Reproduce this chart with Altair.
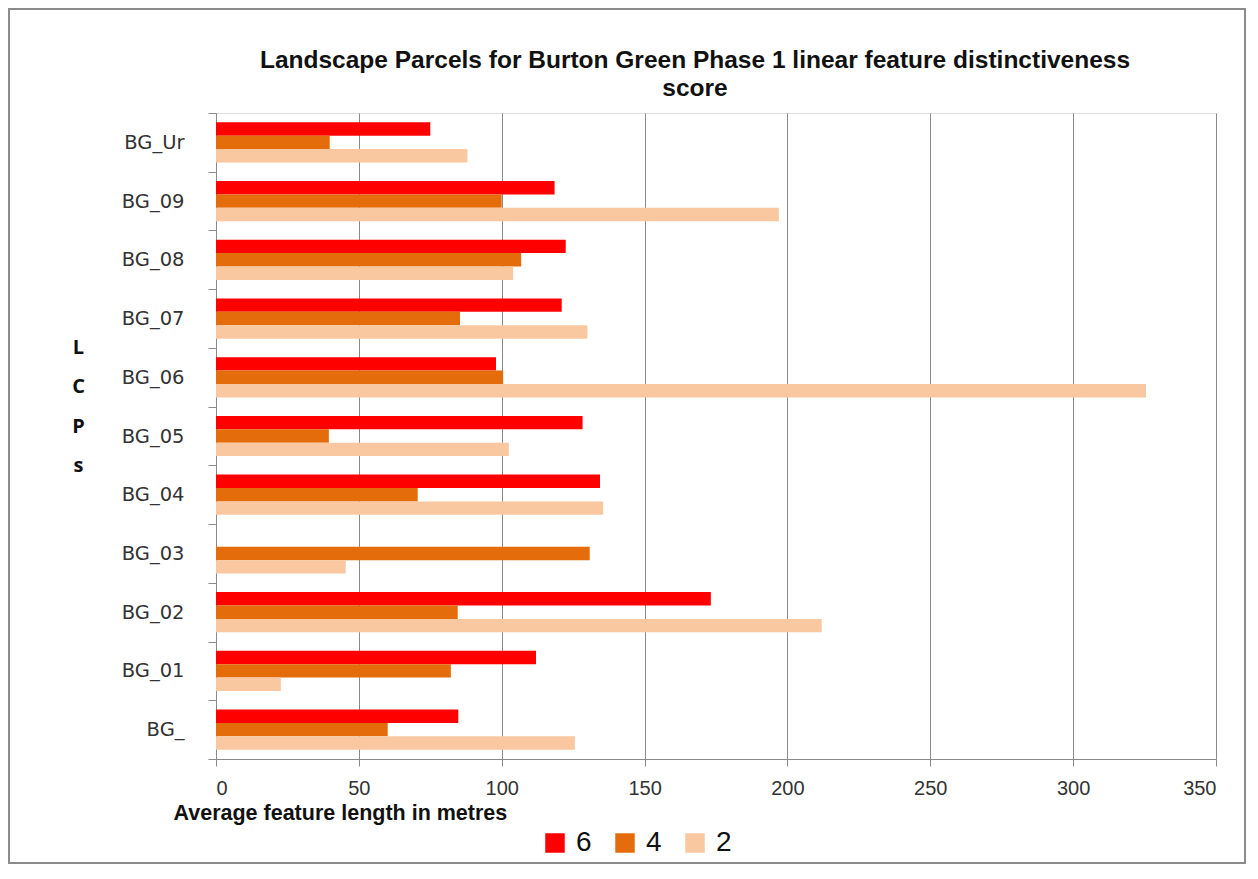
import altair as alt
import pandas as pd

categories = ["BG_Ur", "BG_09", "BG_08", "BG_07", "BG_06", "BG_05",
              "BG_04", "BG_03", "BG_02", "BG_01", "BG_"]
series_names = ["6", "4", "2"]
values_6 = [75, 118.5, 122.4, 121, 98, 128.3, 134.4, 0, 173.2, 112, 84.8]
values_4 = [39.8, 100, 106.8, 85.4, 100.5, 39.5, 70.6, 130.8, 84.6, 82.2, 60.1]
values_2 = [88, 197, 104, 130, 325.5, 102.5, 135.5, 45.4, 212, 22.7, 125.6]
colors = ["#FF0000", "#E46C0A", "#F9C8A0"]
x_ticks = [0, 50, 100, 150, 200, 250, 300, 350]
title_lines = ["Landscape Parcels for  Burton Green Phase 1 linear feature  distinctiveness",
               "score"]

rows = []
for name, vals in zip(series_names, [values_6, values_4, values_2]):
    for c, v in zip(categories, vals):
        rows.append({"LCP": c, "score": name, "length": v})
df = pd.DataFrame(rows)

W, H = 1000, 646
PL, PT, PR, PB = 208, 105, 30, 105

narrow = "Liberation Sans Narrow, Arial Narrow, Liberation Sans, Arial"

bars = alt.Chart(df).mark_bar().encode(
    x=alt.X("length:Q",
            scale=alt.Scale(domain=[0, 350], nice=False, zero=True),
            axis=alt.Axis(values=x_ticks, title="Average feature  length in metres",
                          grid=True, gridColor="#8a8a8a", gridWidth=1,
                          domainColor="#8a8a8a", tickColor="#8a8a8a", tickSize=7,
                          labelFont="Liberation Sans", labelFontSize=20,
                          labelColor="#333333", labelPadding=12,
                          titleFont=narrow, titleFontSize=21.5, titleFontWeight="bold",
                          titleColor="#111111", titleAlign="left", titleAnchor="start",
                          titleX=-43, titleY=54, titleBaseline="middle")),
    y=alt.Y("LCP:N", sort=categories,
            scale=alt.Scale(paddingInner=0, paddingOuter=0),
            axis=alt.Axis(title=["L", "C", "P", "s"], titleAngle=0,
                          titleFont="Open Sans", titleFontSize=20, titleFontWeight="bold",
                          titleColor="#111111", titleAlign="center",
                          titleBaseline="middle", titleX=-138, titleY=234,
                          titleLineHeight=39.5,
                          tickBand="extent", tickSize=8, tickColor="#8a8a8a",
                          domainColor="#8a8a8a", labelFont="DejaVu Sans",
                          labelFontSize=19.5, labelColor="#333333", labelPadding=24)),
    yOffset=alt.YOffset("score:N", sort=series_names,
                        scale=alt.Scale(paddingOuter=0.69, paddingInner=0)),
    color=alt.Color("score:N", sort=series_names,
                    scale=alt.Scale(domain=series_names, range=colors),
                    legend=alt.Legend(title=None, orient="none", direction="horizontal",
                                      legendX=325, legendY=716, symbolType="square",
                                      symbolSize=380, symbolStrokeWidth=0,
                                      labelFont="Liberation Sans", labelFontSize=28,
                                      labelColor="#111111", columnPadding=19,
                                      labelOffset=7, padding=0)),
)

frame = alt.Chart(pd.DataFrame({"a": [0]})).mark_rect(
    fill="transparent", stroke="#8c8c8c", strokeWidth=2
).encode(
    x=alt.value(-PL + 1), x2=alt.value(W + PR - 1),
    y=alt.value(-PT + 1), y2=alt.value(H + PB - 1),
)

title = alt.Chart(pd.DataFrame({"a": [0]})).mark_text(
    font=narrow, fontSize=24.5, fontWeight="bold", color="#111111",
    align="center", baseline="middle", lineHeight=28,
).encode(
    text=alt.value(title_lines),
    x=alt.value(479), y=alt.value(-52),
)

chart = alt.layer(bars, frame, title).properties(
    width=W, height=H,
    autosize=alt.AutoSizeParams(type="none"),
    padding={"left": PL, "top": PT, "right": PR, "bottom": PB},
).configure_view(stroke=None).configure(background="white")

chart.save("out.html", embed_options={"renderer": "svg", "actions": False})
